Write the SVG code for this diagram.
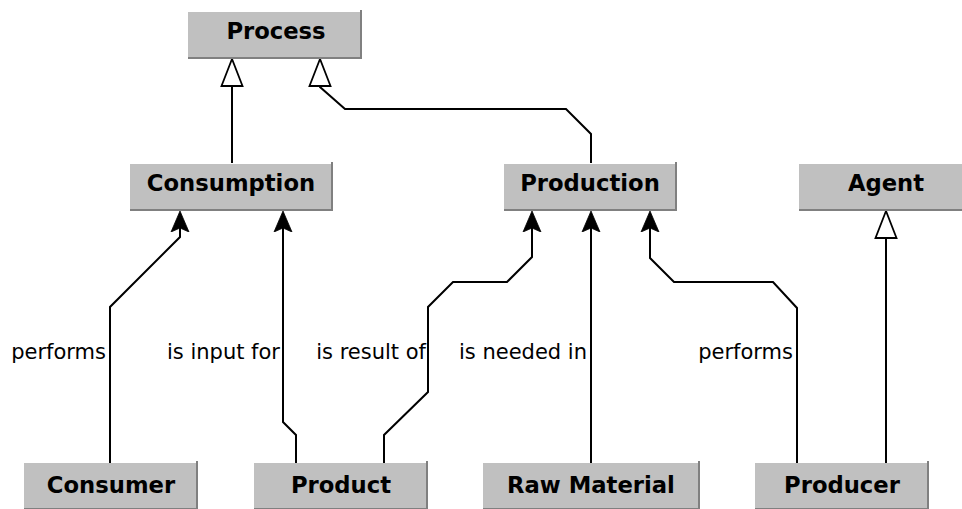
<svg xmlns="http://www.w3.org/2000/svg" width="962" height="509" viewBox="0 0 962 509">
<style>
.box{fill:#c0c0c0}
.sh{fill:none;stroke:#808080;stroke-width:2}
.nt{font-family:"DejaVu Sans",sans-serif;font-weight:bold;font-size:22.7px;fill:#000;text-anchor:middle}
.lb{font-family:"DejaVu Sans",sans-serif;font-size:21px;fill:#000;text-anchor:end}
.ln{fill:none;stroke:#000;stroke-width:2;stroke-linejoin:miter}
.arr{marker-end:url(#arrow)}
.gen{marker-end:url(#tri)}
</style>
<defs>
<marker id="arrow" viewBox="0 -10 22 20" markerWidth="22" markerHeight="20" markerUnits="userSpaceOnUse" refX="6" refY="0" orient="auto">
<path d="M21,0 L0,-9 L4,0 L0,9 Z" fill="#000" stroke="#000" stroke-width="0.8" stroke-linejoin="miter"/>
</marker>
<marker id="tri" viewBox="0 -12 30 24" markerWidth="30" markerHeight="24" markerUnits="userSpaceOnUse" refX="1" refY="0" orient="auto">
<path d="M28,0 L1,-10.5 L1,10.5 Z" fill="#fff" stroke="#000" stroke-width="1.8"/>
</marker>
</defs>
<g id="connectors">
<path class="ln gen" d="M232,163 L232,86"/>
<path class="ln gen" d="M591,163 L591,134 L566,109 L345,109 L320,87 L320,86"/>
<path class="ln gen" d="M886,463 L886,238"/>
<path class="ln arr" d="M110,463 L110,307 L180,237 L180,226"/>
<path class="ln arr" d="M296,463 L296,435 L283,422 L283,226"/>
<path class="ln arr" d="M384,463 L384,435 L428,392 L428,307 L453,282 L507,282 L532,257 L532,226"/>
<path class="ln arr" d="M591,463 L591,226"/>
<path class="ln arr" d="M797,463 L797,308 L773,282 L674,282 L650,258 L650,226"/>
<text class="lb" x="106" y="359">performs</text>
<text class="lb" x="280" y="359">is input for</text>
<text class="lb" x="426" y="359">is result of</text>
<text class="lb" x="587" y="359">is needed in</text>
<text class="lb" x="793" y="359">performs</text>
</g>
<g id="process">
<rect class="box" x="188" y="12" width="174" height="47"/>
<path class="sh" d="M361,10 V58 H188"/>
<text class="nt" x="276" y="39">Process</text>
</g>
<g id="consumption">
<rect class="box" x="130" y="164" width="203" height="47"/>
<path class="sh" d="M332,162 V210 H130"/>
<text class="nt" x="231" y="191">Consumption</text>
</g>
<g id="production">
<rect class="box" x="504" y="164" width="173" height="47"/>
<path class="sh" d="M676,162 V210 H504"/>
<text class="nt" x="590" y="191">Production</text>
</g>
<g id="agent">
<rect class="box" x="799" y="164" width="174" height="47"/>
<path class="sh" d="M972,162 V210 H799"/>
<text class="nt" x="886" y="191">Agent</text>
</g>
<g id="consumer">
<rect class="box" x="24" y="463" width="174" height="47"/>
<path class="sh" d="M197,461 V509 H24"/>
<text class="nt" x="111" y="493">Consumer</text>
</g>
<g id="product">
<rect class="box" x="254" y="463" width="174" height="47"/>
<path class="sh" d="M427,461 V509 H254"/>
<text class="nt" x="341" y="493">Product</text>
</g>
<g id="raw-material">
<rect class="box" x="483" y="463" width="217" height="47"/>
<path class="sh" d="M699,461 V509 H483"/>
<text class="nt" x="591" y="493">Raw Material</text>
</g>
<g id="producer">
<rect class="box" x="755" y="463" width="174" height="47"/>
<path class="sh" d="M928,461 V509 H755"/>
<text class="nt" x="842" y="493">Producer</text>
</g>
</svg>
